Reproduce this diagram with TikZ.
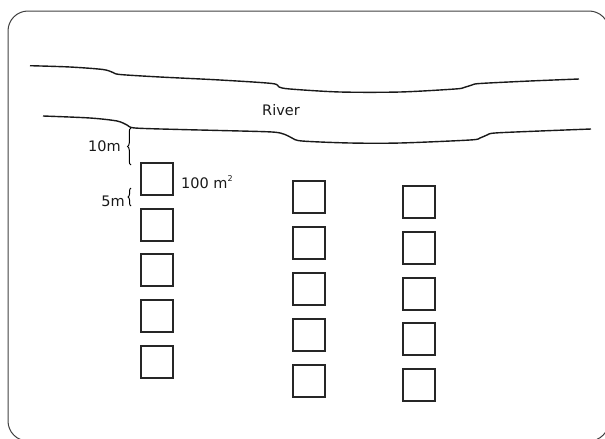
\documentclass[tikz,border=0pt]{standalone}
\usepackage{fontspec}
\setmainfont{DejaVu Sans}
\usetikzlibrary{decorations.pathreplacing}
\begin{document}
\begin{tikzpicture}[x=1pt,y=-1pt,
  plotbox/.style={draw=black!85,line width=1.5pt,minimum width=32pt,minimum height=32pt,inner sep=0pt,anchor=north west},
  bank/.style={line width=1.4pt,black!90},
  lbl/.style={font=\fontsize{14.5pt}{16pt}\selectfont,inner sep=0pt,text=black!90},
  bracebrace/.style={decorate,decoration={brace,amplitude=3.5pt},line width=1pt}]
\useasboundingbox (0,0) rectangle (605,439);
\begin{scope}
\clip (0,0) rectangle (605,439);
\draw[black!75,line width=1pt,rounded corners=20pt] (8,11) rectangle (609,441);
\end{scope}
% river banks
\draw[bank] plot[smooth,tension=0.5] coordinates {(30,65.7) (70,67) (103,69.5) (113,72.5) (120,74.5) (160,77) (220,80) (272,83.5) (279,87) (290,89) (340,92) (400,92) (455,89) (464,87.5) (472,85) (480,83.5) (530,81) (579,79)};
\draw[bank] plot[smooth,tension=0.5] coordinates {(43,116) (90,118) (117,121) (127,125) (135,128) (180,129.5) (220,130.5) (272,132) (285,134.5) (292,138) (302,141) (350,143) (400,143) (470,140) (480,138) (487,135) (495,133) (540,131) (591,129)};
\node[lbl] (river) at (281,110) {River};
% plots
\foreach \y [count=\i] in {162,208,253,299,345} \node[plotbox] (a\i) at (140,\y) {};
\foreach \y [count=\i] in {180,226,272,318,364} \node[plotbox] (b\i) at (292,\y) {};
\foreach \y [count=\i] in {185,231,277,322,368} \node[plotbox] (c\i) at (402,\y) {};
% labels and braces
\coordinate (t1) at (131,165);
\coordinate (t2) at (131,128);
\coordinate (f1) at (131,206);
\coordinate (f2) at (131,188);
\draw[bracebrace] (t1) -- (t2);
\draw[bracebrace,decoration={amplitude=3pt}] (f1) -- (f2);
\node[lbl,anchor=east] (ten) at (121,146) {10m};
\node[lbl,anchor=east] (five) at (125,201) {5m};
\node[lbl,anchor=west] (area) at (181,182) {100 m\raisebox{0.45em}{\fontsize{8pt}{9pt}\selectfont 2}};
\end{tikzpicture}
\end{document}
